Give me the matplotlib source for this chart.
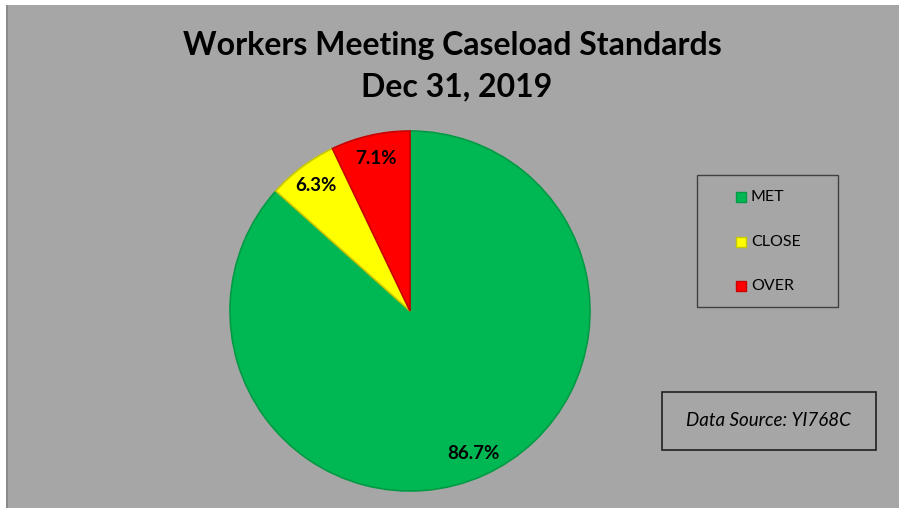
"""Workers meeting caseload standards pie chart, Dec 31 2019."""

import matplotlib.pyplot as plt
from matplotlib.patches import Rectangle

W, H = 899, 508

categories = ["MET", "CLOSE", "OVER"]
shares = [86.7, 6.3, 7.1]
colors = ["#00b853", "#ffff00", "#ff0000"]
edge_colors = ["#009a44", "#c8c800", "#c80000"]
pct_labels = ["86.7%", "6.3%", "7.1%"]

title_lines = ["Workers Meeting Caseload Standards", "Dec 31, 2019"]
source_text = "Data Source: YI768C"

BG = "#a6a6a6"


def fx(px):
    return px / W


def fy(py):
    return 1 - py / H


fig = plt.figure(figsize=(W / 100, H / 100), dpi=100)
fig.patch.set_facecolor("white")

# grey chart area with darker left edge
fig.patches.append(Rectangle((fx(6), 0), 1 - fx(6), fy(5), transform=fig.transFigure,
                             facecolor=BG, edgecolor="none", zorder=-2))
fig.patches.append(Rectangle((fx(6), 0), fx(2), fy(5), transform=fig.transFigure,
                             facecolor="#8a8a8a", edgecolor="none", zorder=-1))

fig.text(fx(452), fy(45), title_lines[0], ha="center", va="center",
         fontsize=23, fontweight="bold", family="Lato")
fig.text(fx(457), fy(87), title_lines[1], ha="center", va="center",
         fontsize=23, fontweight="bold", family="Lato")

# pie
cx, cy, r = 410, 311, 180
ax = fig.add_axes([fx(cx - r), 1 - (cy + r) / H, 2 * r / W, 2 * r / H])
ax.set_facecolor("none")
ax.set_zorder(1)
wedges, texts, autotexts = ax.pie(
    shares, colors=colors, startangle=90, counterclock=False,
    autopct="%1.1f%%", pctdistance=0.87,
    wedgeprops=dict(linewidth=1.2),
    textprops=dict(fontsize=13.5, fontweight="bold", family="Lato"),
)
for w, ec in zip(wedges, edge_colors):
    w.set_edgecolor(ec)
for t, lab in zip(autotexts, pct_labels):
    t.set_text(lab)
ax.set_xlim(-1, 1)
ax.set_ylim(-1, 1)
ax.set_aspect("equal")
ax.axis("off")

# legend box
fig.patches.append(Rectangle((fx(697), fy(307)), fx(838) - fx(697), fy(175) - fy(307),
                             transform=fig.transFigure, facecolor="none",
                             edgecolor="#404040", linewidth=1, zorder=2))
for i, (name, c, ec) in enumerate(zip(categories, colors, edge_colors)):
    ypx = 197 + i * 44.5
    fig.patches.append(Rectangle((fx(736), fy(ypx + 5)), fx(10), 10 / H,
                                 transform=fig.transFigure, facecolor=c,
                                 edgecolor=ec, linewidth=1, zorder=3))
    fig.text(fx(751), fy(ypx), name, ha="left", va="center",
             fontsize=11.5, family="Lato")

# data source box
fig.patches.append(Rectangle((fx(662), fy(450)), fx(876) - fx(662), fy(392) - fy(450),
                             transform=fig.transFigure, facecolor="none",
                             edgecolor="#202020", linewidth=1.2, zorder=2))
fig.text(fx(768), fy(421), source_text, ha="center", va="center",
         fontsize=13.5, style="italic", family="Lato")

fig.savefig("out.png", dpi=100, facecolor=fig.get_facecolor())
